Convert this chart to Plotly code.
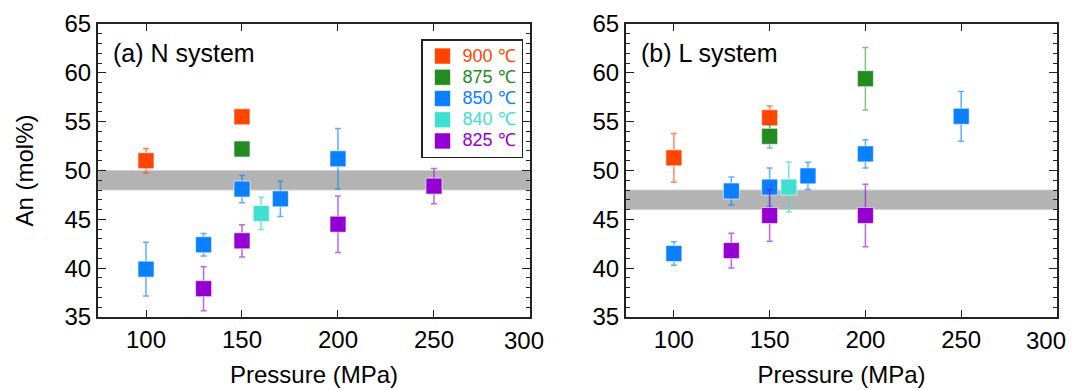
import plotly.graph_objects as go

# ---------------- data ----------------
temps = ["900", "875", "850", "840", "825"]
colors = {"900": "#FF4500", "875": "#228B22", "850": "#0A80FF", "840": "#40E0D0", "825": "#9400D3"}
err_colors = {"900": "rgba(255,69,0,0.65)", "875": "rgba(34,139,34,0.55)", "850": "rgba(10,128,255,0.65)",
              "840": "rgba(64,224,208,0.75)", "825": "rgba(148,0,211,0.6)"}

# (a) N system
n900_p = [100, 150]; n900_an = [51.0, 55.5]; n900_err = [1.25, 0]
n875_p = [150]; n875_an = [52.2]; n875_err = [0]
n850_p = [100, 130, 150, 170, 200]; n850_an = [39.9, 42.4, 48.1, 47.1, 51.2]; n850_err = [2.75, 1.15, 1.4, 1.8, 3.1]
n840_p = [160]; n840_an = [45.6]; n840_err = [1.65]
n825_p = [130, 150, 200, 250]; n825_an = [37.9, 42.8, 44.5, 48.4]; n825_err = [2.25, 1.65, 2.9, 1.8]
n_band = [48, 50]

# (b) L system
l900_p = [100, 150]; l900_an = [51.3, 55.4]; l900_err = [2.5, 1.2]
l875_p = [150, 200]; l875_an = [53.5, 59.4]; l875_err = [1.2, 3.2]
l850_p = [100, 130, 150, 170, 200, 250]; l850_an = [41.5, 47.9, 48.3, 49.45, 51.7, 55.55]; l850_err = [1.2, 1.43, 1.95, 1.4, 1.45, 2.55]
l840_p = [160]; l840_an = [48.3]; l840_err = [2.55]
l825_p = [130, 150, 200]; l825_an = [41.8, 45.4, 45.4]; l825_err = [1.78, 2.65, 3.2]
l_band = [46, 48]

x_ticks = [100, 150, 200, 250, 300]
x_tick_labels = ["100", "150", "200", "250", ""]   # the end label "300" is placed as an annotation
x_end_label = "300"
y_ticks = [35, 40, 45, 50, 55, 60, 65]

N = {"900": (n900_p, n900_an, n900_err), "875": (n875_p, n875_an, n875_err),
     "850": (n850_p, n850_an, n850_err), "840": (n840_p, n840_an, n840_err),
     "825": (n825_p, n825_an, n825_err)}
L = {"900": (l900_p, l900_an, l900_err), "875": (l875_p, l875_an, l875_err),
     "850": (l850_p, l850_an, l850_err), "840": (l840_p, l840_an, l840_err),
     "825": (l825_p, l825_an, l825_err)}

FONT = "Liberation Sans, Arial, sans-serif"

fig = go.Figure()

for panel, data, xa, ya, show in [("N", N, "x", "y", True), ("L", L, "x2", "y2", False)]:
    for t in temps:
        p, an, er = data[t]
        fig.add_trace(go.Scatter(
            x=p, y=an, mode="markers", xaxis=xa, yaxis=ya,
            name='<span style="color:%s;font-size:18px">%s ℃</span>' % (colors[t], t),
            legendgroup=t, showlegend=show,
            marker=dict(symbol="square", size=16, color=colors[t],
                        line=dict(width=1, color="rgba(255,255,255,0.6)")),
            error_y=dict(type="data", array=er, visible=True, color=err_colors[t],
                         thickness=1.5, width=3),
        ))

# grey bands
fig.add_shape(type="rect", xref="x domain", yref="y", x0=0, x1=1, y0=n_band[0], y1=n_band[1],
              fillcolor="#B3B3B3", line=dict(width=1, color="#D0D0D0"), layer="below")
fig.add_shape(type="rect", xref="x2 domain", yref="y2", x0=0, x1=1, y0=l_band[0], y1=l_band[1],
              fillcolor="#B3B3B3", line=dict(width=1, color="#D0D0D0"), layer="below")

# page body has an 8px default margin -> figure is 8px smaller and offset
OFF = 8
W, H = 1076 - OFF, 390 - OFF
ML, MR, MT, MB = 98 - OFF, 1076 - 1057, 24 - OFF, 390 - 317
PW = W - ML - MR
PH = H - MT - MB
xdomA = [0, (530 - 98) / PW]
xdomB = [(626 - 98) / PW, 1]
ydom = [0, 1]

axis_common = dict(showline=True, linecolor="#222", linewidth=2, mirror="allticks",
                   ticks="inside", tickcolor="#222", showgrid=False, zeroline=False,
                   automargin=False,
                   tickfont=dict(family=FONT, size=24, color="black"))

xcommon = dict(axis_common, range=[75, 300.02], tickvals=x_ticks, ticktext=x_tick_labels,
               ticklen=7, tickwidth=1)
ycommon = dict(axis_common, range=[35, 65], tickvals=y_ticks, ticklen=8, tickwidth=1,
               minor=dict(dtick=1, ticklen=4, tickwidth=1, tickcolor="#222", ticks="inside"))

annots = [
    dict(text="(a) N system", xref="x domain", yref="y domain", x=0.03, y=0.9,
         xanchor="left", yanchor="middle", showarrow=False, font=dict(family=FONT, size=25, color="black")),
    dict(text="(b) L system", xref="x2 domain", yref="y2 domain", x=0.03, y=0.9,
         xanchor="left", yanchor="middle", showarrow=False, font=dict(family=FONT, size=25, color="black")),
]
for xr, yr, sh in [("x", "y domain", -6), ("x2", "y2 domain", -11)]:
    annots.append(dict(text=x_end_label, xref=xr, yref=yr, x=x_ticks[-1], y=0,
                       xanchor="center", yanchor="top", xshift=sh, yshift=-8, showarrow=False,
                       font=dict(family=FONT, size=24, color="black")))

fig.update_layout(
    width=W, height=H, margin=dict(l=ML, r=MR, t=MT, b=MB),
    paper_bgcolor="white", plot_bgcolor="white",
    font=dict(family=FONT, color="black"),
    xaxis=dict(xcommon, domain=xdomA, anchor="y",
               title=dict(text="Pressure (MPa)", font=dict(family=FONT, size=24), standoff=14)),
    yaxis=dict(ycommon, domain=ydom, anchor="x",
               title=dict(text="An (mol%)", font=dict(family=FONT, size=24), standoff=24)),
    xaxis2=dict(xcommon, domain=xdomB, anchor="y2",
                title=dict(text="Pressure (MPa)", font=dict(family=FONT, size=24), standoff=14)),
    yaxis2=dict(ycommon, domain=ydom, anchor="x2"),
    showlegend=True,
    legend=dict(x=(421 - 98) / PW, y=(317 - 39) / PH, xanchor="left", yanchor="top",
                bordercolor="#222", borderwidth=1.5, bgcolor="white",
                font=dict(family=FONT, size=14), tracegroupgap=0, itemwidth=30),
    annotations=annots,
)

fig.write_html("out.html")
